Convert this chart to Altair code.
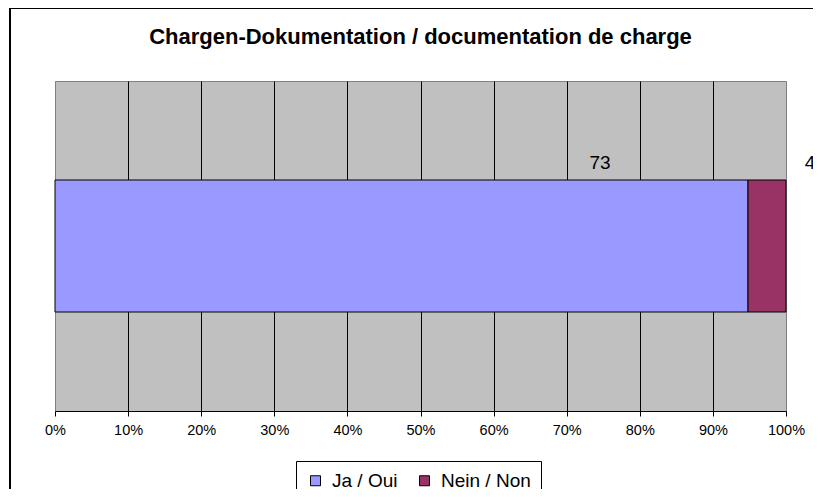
import altair as alt
import pandas as pd

# ---- data ----
answers = ["Ja / Oui", "Nein / Non"]
counts = [73, 4]
order_idx = [0, 1]
row_label = ["", ""]
tick_values = [0, 0.1, 0.2, 0.3, 0.4, 0.5, 0.6, 0.7, 0.8, 0.9, 1.0]
colors = ["#9999FF", "#993366"]
title_text = "Chargen-Dokumentation / documentation de charge"

df = pd.DataFrame({"answer": answers, "count": counts, "idx": order_idx, "row": row_label})

FONT = "Liberation Sans"

base = alt.Chart(df)

frame = alt.Chart(pd.DataFrame({"a": [0]})).mark_rect(
    fill="transparent", stroke="black", strokeWidth=2
).encode(
    x=alt.value(-45), x2=alt.value(900), y=alt.value(-73), y2=alt.value(700)
)

bars = base.mark_bar(stroke="black", strokeWidth=1, size=132).encode(
    x=alt.X(
        "count:Q",
        stack="normalize",
        scale=alt.Scale(domain=[0, 1], nice=False),
        axis=alt.Axis(
            values=tick_values,
            format=".0%",
            title=None,
            grid=True,
            gridColor={"condition": {"test": "datum.value > 0.001 && datum.value < 0.999", "value": "#000000"}, "value": "#808080"},
            gridWidth=1,
            gridOpacity=1,
            domainColor="black",
            tickColor="black",
            tickSize=5,
            labelFont=FONT,
            labelFontSize=14.5,
            labelColor="black",
            labelPadding=7,
            labelFlush=False,
            labelOverlap=False,
        ),
    ),
    y=alt.Y("row:N", axis=None),
    color=alt.Color(
        "answer:N",
        scale=alt.Scale(domain=answers, range=colors),
        legend=alt.Legend(
            title=None,
            orient="none",
            legendX=241,
            legendY=380,
            direction="horizontal",
            strokeColor="black",
            fillColor="white",
            padding=10,
            symbolType="square",
            symbolSize=100,
            symbolStrokeColor="black",
            symbolStrokeWidth=1,
            symbolOpacity=1,
            labelFont=FONT,
            labelFontSize=19,
            labelColor="black",
            labelOffset=7,
            columnPadding=17,
        ),
    ),
    order=alt.Order("idx:Q"),
)

lab_base = base.transform_joinaggregate(
    total="sum(count)"
).transform_window(
    cum="sum(count)", sort=[alt.SortField("idx")], frame=[None, 0]
).transform_calculate(
    frac="datum.cum / datum.total"
)

lab_ja = lab_base.transform_filter("datum.idx == 0").mark_text(
    font=FONT, fontSize=19, color="black", dx=-148, dy=-83, baseline="middle"
).encode(x=alt.X("frac:Q"), y=alt.Y("row:N"), text="count:Q")

lab_nein = lab_base.transform_filter("datum.idx == 1").mark_text(
    font=FONT, fontSize=19, color="black", dx=24, dy=-83, baseline="middle"
).encode(x=alt.X("frac:Q"), y=alt.Y("row:N"), text="count:Q")

chart = alt.layer(frame, bars, lab_ja, lab_nein).properties(
    width=731,
    height=330,
    padding={"left": 47, "top": 73, "right": 27, "bottom": 78},
    autosize=alt.AutoSizeParams(type="none"),
    title=alt.TitleParams(
        text=title_text,
        font=FONT,
        fontSize=22,
        fontWeight="bold",
        color="black",
        anchor="middle",
        frame="group",
        baseline="middle",
        offset=0,
        dy=52,
    ),
).configure_view(stroke="#808080", strokeWidth=1, fill="#C0C0C0").configure_scale(
    bandPaddingInner=0, bandPaddingOuter=0
)

chart.save("out.html", embed_options={"renderer": "svg", "actions": False})
